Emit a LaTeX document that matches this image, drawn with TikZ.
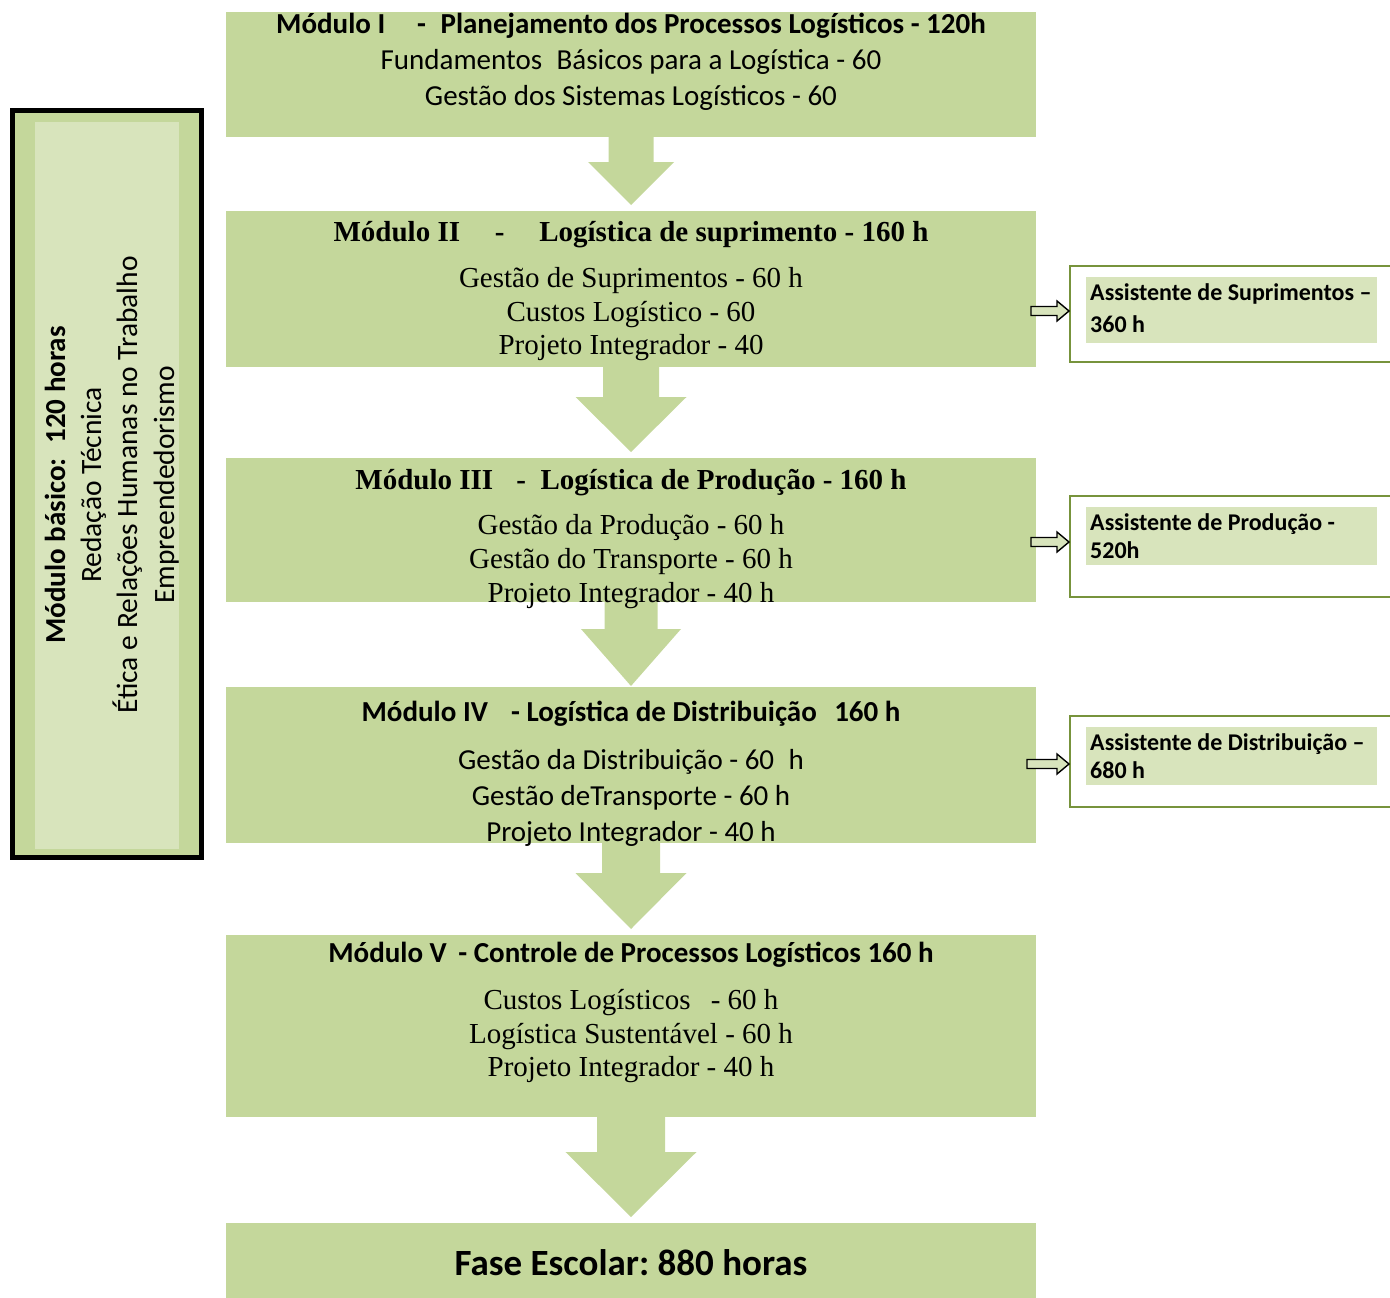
\documentclass[tikz,border=0pt]{standalone}
\usepackage{fontspec}
\setmainfont{Carlito}
\newfontfamily\serif{Liberation Serif}
\usetikzlibrary{calc}
\definecolor{modfill}{HTML}{C4D79B}
\definecolor{lightfill}{HTML}{D8E4BC}
\definecolor{olivedark}{HTML}{77933C}
\frenchspacing

\newcommand\fs[1]{\fontsize{#1}{#1}\selectfont}

% wide downward block arrow between two module boxes
% #1 upper box, #2 lower box, #3 shaft half width, #4 head half width, #5 head length, #6 gap above lower box
\newcommand\blockdown[6]{%
  \fill[modfill] let \p1=(#1.south), \p2=(#2.north) in
    (\x1-#3,\y1) -- (\x1+#3,\y1) -- (\x1+#3,\y2+#6+#5) -- (\x1+#4,\y2+#6+#5)
    -- (\x1,\y2+#6) -- (\x1-#4,\y2+#6+#5) -- (\x1-#3,\y2+#6+#5) -- cycle;}

% small outlined arrow from a coordinate to the west side of a node
\newcommand\hollowright[2]{%
  \draw[black, line width=1.4pt, fill=lightfill, line join=miter]
    let \p1=(#1), \p2=(#2.west |- #1) in
    (\x1,\y1+4.5pt) -- (\x2-12pt,\y1+4.5pt) -- (\x2-12pt,\y1+10pt) -- (\x2,\y1)
    -- (\x2-12pt,\y1-10pt) -- (\x2-12pt,\y1-4.5pt) -- (\x1,\y1-4.5pt) -- cycle;}

\begin{document}
\begin{tikzpicture}[x=1pt,y=-1pt,
  modbox/.style={fill=modfill, draw=none, inner sep=0pt, outer sep=0pt,
    anchor=north west, minimum width=810pt},
  outbox/.style={draw=olivedark, line width=1.6pt, fill=white, inner sep=0pt,
    anchor=north west, minimum width=330pt},
  inbox/.style={fill=lightfill, inner sep=0pt, anchor=north west, minimum width=291pt},
  ln/.style={anchor=base, inner sep=0pt},
  cal/.style={ln, font=\fs{29}},
  calb/.style={ln, font=\fs{29}\bfseries},
  tim/.style={ln, font=\fs{29}\serif},
  timb/.style={ln, font=\fs{29}\serif\bfseries},
  side/.style={anchor=base west, inner sep=0pt, font=\fs{24}\bfseries},
  rot/.style={anchor=base, inner sep=0pt, rotate=90, font=\fs{29.5}}]

\useasboundingbox (0,0) rectangle (1390,1298);

% left column: basic module
\draw[line width=5pt, fill=modfill] (12.5,110.5) rectangle (201.5,857.5);
\node[fill=lightfill, inner sep=0pt, anchor=north west, minimum width=144pt,
  minimum height=727pt] (basic) at (35,122) {};
\node[rot, font=\fs{29}\bfseries] (b0) at (65,485) {Módulo básico:\hspace{0.5em}120 horas};
\node[rot] (b1) at (101,485) {Redação Técnica};
\node[rot] (b2) at (137,485) {Ética e Relações Humanas no Trabalho};
\node[rot] (b3) at (174,485) {Empreendedorismo};

% module boxes
\node[modbox, minimum height=125pt] (m1) at (226,12) {};
\node[modbox, minimum height=156pt] (m2) at (226,211) {};
\node[modbox, minimum height=144pt] (m3) at (226,458) {};
\node[modbox, minimum height=156pt] (m4) at (226,687) {};
\node[modbox, minimum height=182pt] (m5) at (226,935) {};
\node[modbox, minimum height=76pt] (fase) at (226,1223) {};

% arrows between modules
\blockdown{m1}{m2}{22.5pt}{43pt}{43pt}{6pt}
\blockdown{m2}{m3}{28pt}{55.5pt}{55pt}{6pt}
\blockdown{m3}{m4}{26.5pt}{50pt}{57pt}{1pt}
\blockdown{m4}{m5}{29pt}{55.5pt}{56pt}{6pt}
\blockdown{m5}{fase}{34pt}{65.5pt}{65pt}{6pt}

% module I
\node[calb] (t1) at (631,34) {Módulo I\hspace{1.1em}-\hspace{0.5em}Planejamento dos Processos Logísticos - 120h};
\node[cal] (t1a) at (631,70) {Fundamentos\hspace{0.5em}Básicos para a Logística - 60};
\node[cal] (t1b) at (631,105) {Gestão dos Sistemas Logísticos - 60};

% module II
\node[timb] (t2) at (631,241) {Módulo II\hspace{1.2em}-\hspace{1.2em}Logística de suprimento - 160 h};
\node[tim] (t2a) at (631,287) {Gestão de Suprimentos - 60 h};
\node[tim] (t2b) at (631,321) {Custos Logístico - 60};
\node[tim] (t2c) at (631,354) {Projeto Integrador - 40};

% module III
\node[timb] (t3) at (631,489) {Módulo III\hspace{0.8em}-\hspace{0.5em}Logística de Produção - 160 h};
\node[tim] (t3a) at (631,534) {Gestão da Produção - 60 h};
\node[tim] (t3b) at (631,568) {Gestão do Transporte - 60 h};
\node[tim] (t3c) at (631,602) {Projeto Integrador - 40 h};

% module IV
\node[calb] (t4) at (631,721) {Módulo IV\hspace{0.8em}- Logística de Distribuição\hspace{0.6em}160 h};
\node[cal] (t4a) at (631,769) {Gestão da Distribuição - 60\hspace{0.5em}h};
\node[cal] (t4b) at (631,805) {Gestão deTransporte - 60 h};
\node[cal] (t4c) at (631,841) {Projeto Integrador - 40 h};

% module V
\node[calb] (t5) at (631,962) {Módulo V\hspace{0.4em}- Controle de Processos Logísticos 160 h};
\node[tim] (t5a) at (631,1009) {Custos Logísticos\hspace{0.7em}- 60 h};
\node[tim] (t5b) at (631,1043) {Logística Sustentável - 60 h};
\node[tim] (t5c) at (631,1076) {Projeto Integrador - 40 h};

% total
\node[ln, font=\fs{37}\bfseries] (tf) at (631,1275) {Fase Escolar: 880 horas};

% certifications on the right
\node[outbox, minimum height=96pt] (sa) at (1069,265) {};
\node[inbox, minimum height=66pt] (sai) at (1086,277) {};
\node[side] (sa1) at (1090,300) {Assistente de Suprimentos –};
\node[side] (sa2) at (1090,332) {360 h};

\node[outbox, minimum height=101pt] (sb) at (1069,495) {};
\node[inbox, minimum height=58pt] (sbi) at (1086,507) {};
\node[side] (sb1) at (1090,530) {Assistente de Produção -};
\node[side] (sb2) at (1090,558) {520h};

\node[outbox, minimum height=91pt] (sc) at (1069,715) {};
\node[inbox, minimum height=58pt] (sci) at (1086,727) {};
\node[side] (sc1) at (1090,750) {Assistente de Distribuição –};
\node[side] (sc2) at (1090,778) {680 h};

\coordinate (pa) at (1031,311);
\coordinate (pb) at (1031,542);
\coordinate (pc) at (1027,764);
\hollowright{pa}{sa}
\hollowright{pb}{sb}
\hollowright{pc}{sc}
\end{tikzpicture}
\end{document}
